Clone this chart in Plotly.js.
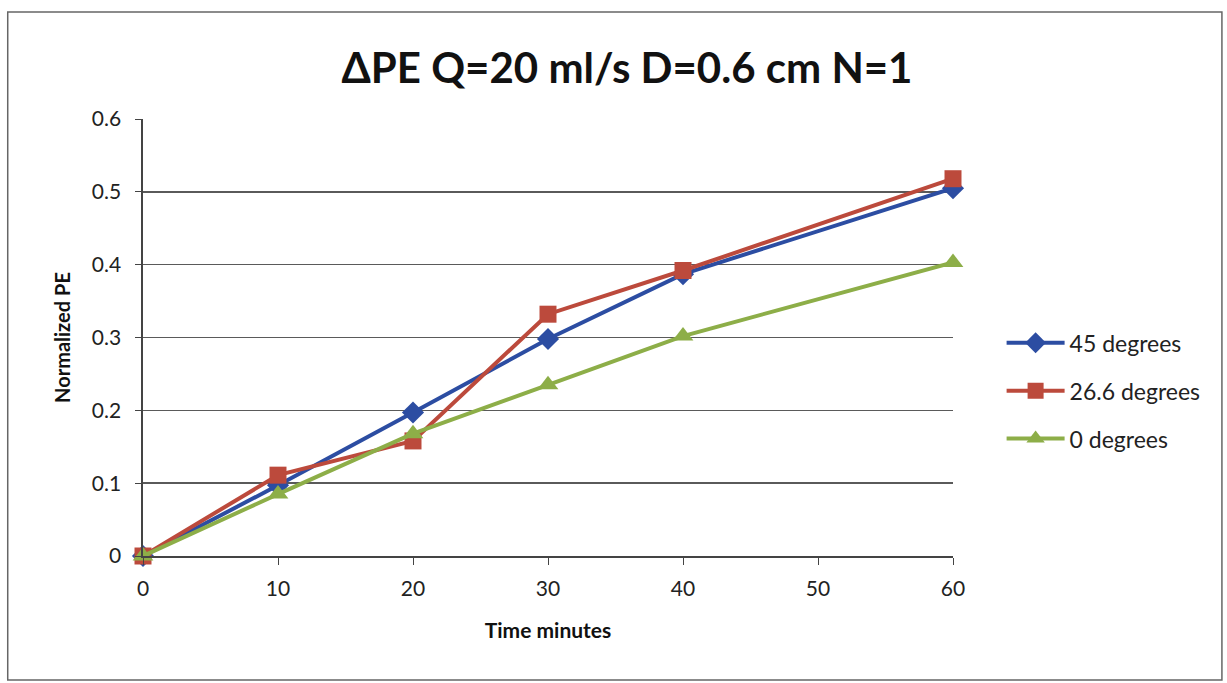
<!DOCTYPE html>
<html>
<head>
<meta charset="utf-8">
<script src="https://cdn.plot.ly/plotly-3.0.1.min.js"></script>
<style>html,body{margin:0;padding:0;background:#fff;}#chart{width:1227px;height:683px;}</style>
</head>
<body>
<div id="chart"></div>
<script>
const timeMinutes = [0, 10, 20, 30, 40, 60];
const deg45 = [0, 0.097, 0.197, 0.298, 0.387, 0.505];
const deg26_6 = [0, 0.111, 0.158, 0.332, 0.392, 0.518];
const deg0 = [0, 0.085, 0.168, 0.235, 0.302, 0.403];
const seriesNames = ['45 degrees', '26.6 degrees', '0 degrees'];
const xTicks = [0, 10, 20, 30, 40, 50, 60];
const yTicks = [0, 0.1, 0.2, 0.3, 0.4, 0.5, 0.6];
const yTickText = ['0', '0.1', '0.2', '0.3', '0.4', '0.5', '0.6'];

const FONT = 'Lato, "Open Sans", sans-serif';
const traces = [
  {x: timeMinutes, y: deg45, name: seriesNames[0], legendgroup: 'a', mode: 'lines+markers', cliponaxis: false,
   line: {color: '#2C4DA2', width: 4}, marker: {symbol: 'diamond', size: 17, color: '#2C4DA2'}},
  {x: timeMinutes, y: deg26_6, name: seriesNames[1], legendgroup: 'b', mode: 'lines+markers', cliponaxis: false,
   line: {color: '#BC4A3C', width: 4}, marker: {symbol: 'square', size: 17, color: '#BC4A3C'}},
  {x: timeMinutes, y: deg0, name: seriesNames[2], legendgroup: 'c', mode: 'lines+markers', cliponaxis: false,
   line: {color: '#8DAE48', width: 4}, marker: {symbol: 'triangle-up', size: 18, color: '#8DAE48'}}
];

const layout = {
  width: 1227, height: 683,
  margin: {l: 143, r: 274, t: 119, b: 127},
  paper_bgcolor: '#fff', plot_bgcolor: '#fff',
  font: {family: FONT, color: '#222'},
  title: {text: '<b>ΔPE Q=20 ml/s D=0.6 cm N=1</b>', x: 0.511, xanchor: 'center', y: 0.9, yanchor: 'middle',
          font: {family: FONT, size: 42, color: '#111'}},
  xaxis: {range: [0, 60], tickvals: xTicks, ticktext: xTicks.map(String), showgrid: false, zeroline: false,
          showline: true, linecolor: '#444', linewidth: 1.6, ticks: 'outside', ticklen: 7, tickcolor: '#444',
          ticklabelstandoff: 6,
          tickfont: {size: 21, color: '#222'},
          title: {text: '<b>Time minutes</b>', font: {size: 21, color: '#111'}, standoff: 24}},
  yaxis: {range: [0, 0.6], tickvals: yTicks, ticktext: yTickText, showgrid: true, gridcolor: '#5a5a5a', gridwidth: 1.6,
          zeroline: false, showline: true, linecolor: '#444', linewidth: 1.6, ticks: 'outside', ticklen: 6, tickcolor: '#444',
          ticklabelstandoff: 10,
          tickfont: {size: 21, color: '#222'},
          title: {text: '<b>Normalized PE</b>', font: {size: 20, color: '#111'}, standoff: 16}},
  legend: {x: 1.06, y: 0.378, xanchor: 'left', yanchor: 'middle', font: {size: 23, color: '#222'},
           itemwidth: 58, tracegroupgap: 15, traceorder: 'grouped', bgcolor: 'rgba(0,0,0,0)'},
  showlegend: true,
  shapes: [
    {type: 'rect', xref: 'paper', yref: 'paper', x0: -0.167, x1: 1.332, y0: -0.284, y1: 1.245,
     line: {color: '#666', width: 1.5}, fillcolor: 'rgba(0,0,0,0)', layer: 'below'}
  ]
};

Plotly.newPlot('chart', traces, layout, {displayModeBar: false, staticPlot: true});
</script>
</body>
</html>
